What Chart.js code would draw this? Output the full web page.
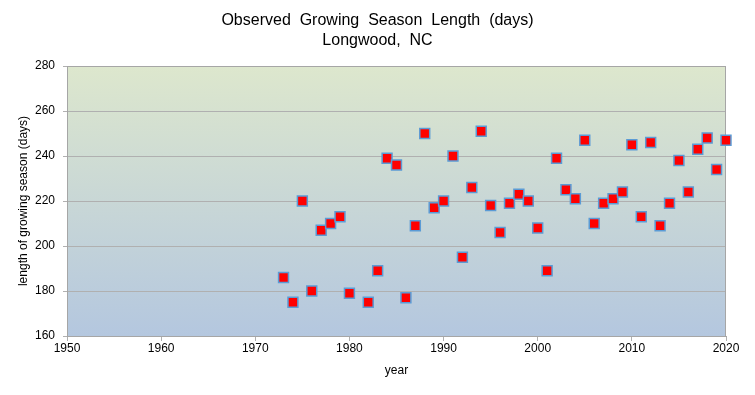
<!DOCTYPE html>
<html>
<head>
<meta charset="utf-8">
<script src="https://cdn.jsdelivr.net/npm/chart.js@4"></script>
<style>
  html, body { margin: 0; padding: 0; background: #fff; }
  #wrap { width: 755px; height: 395px; }
</style>
</head>
<body>
<div id="wrap"><canvas id="seasonChart" width="755" height="395"></canvas></div>
<script>
const years = [
  1973, 1974, 1975, 1976, 1977, 1978, 1979, 1980, 1982, 1983,
  1984, 1985, 1986, 1987, 1988, 1989, 1990, 1991, 1992, 1993,
  1994, 1995, 1996, 1997, 1998, 1999, 2000, 2001, 2002, 2003,
  2004, 2005, 2006, 2007, 2008, 2009, 2010, 2011, 2012, 2013,
  2014, 2015, 2016, 2017, 2018, 2019, 2020
];
const seasonDays = [
  186, 175, 220, 180, 207, 210, 213, 179, 175, 189,
  239, 236, 177, 209, 250, 217, 220, 240, 195, 226,
  251, 218, 206, 219, 223, 220, 208, 189, 239, 225,
  221, 247, 210, 219, 221, 224, 245, 213, 246, 209,
  219, 238, 224, 243, 248, 234, 247
];
const xTicks = [1950, 1960, 1970, 1980, 1990, 2000, 2010, 2020];
const yTicks = [160, 180, 200, 220, 240, 260, 280];

const FONT = "'Liberation Sans', Arial, sans-serif";
const GRID = "#b0b0b0";

// plot background gradient + frame
const plotBackground = {
  id: "plotBackground",
  beforeDraw(chart) {
    const { ctx, chartArea: a } = chart;
    const g = ctx.createLinearGradient(0, a.top, 0, a.bottom);
    g.addColorStop(0, "#dde7cd");
    g.addColorStop(1, "#b4c7df");
    ctx.save();
    ctx.fillStyle = g;
    ctx.fillRect(a.left, a.top, a.right - a.left, a.bottom - a.top);
    ctx.restore();
  },
  beforeDatasetsDraw(chart) {
    const { ctx, chartArea: a } = chart;
    ctx.save();
    ctx.strokeStyle = "#a6a6a6";
    ctx.lineWidth = 1;
    ctx.strokeRect(a.left + 0.5, a.top + 0.5, a.right - a.left - 1, a.bottom - a.top);
    ctx.restore();
  }
};

const ctx = document.getElementById("seasonChart").getContext("2d");

let chart = new Chart(ctx, {
  type: "scatter",
  data: {
    datasets: [
      {
        label: "Growing season length",
        data: years.map((y, i) => ({ x: y, y: seasonDays[i] })),
        pointStyle: "rect",
        pointRadius: 7,
        pointHoverRadius: 7,
        backgroundColor: "#ff0000",
        borderColor: "#5b9bd5",
        borderWidth: 1.5,
        clip: false,
      },
    ],
  },
  options: {
    responsive: false,
    animation: false,
    layout: { padding: 0 },
    plugins: {
      legend: { display: false },
      tooltip: { enabled: false },
      title: {
        display: true,
        text: ["Observed  Growing  Season  Length  (days)", "Longwood,  NC"],
        color: "#000",
        font: { family: FONT, size: 16, weight: "normal", lineHeight: 1.25 },
        padding: { top: 11, bottom: 15 },
      },
    },
    scales: {
      x: {
        type: "linear",
        min: 1950,
        max: 2020,
        afterBuildTicks: (s) => { s.ticks = xTicks.map(v => ({ value: v })); },
        afterFit: (s) => { s.height = 59; },
        ticks: {
          color: "#000",
          font: { family: FONT, size: 12 },
          padding: 0,
          maxRotation: 0,
          callback: (v) => String(v),
        },
        grid: { drawOnChartArea: false, drawTicks: true, tickLength: 5, color: GRID },
        border: { display: true, color: "#a6a6a6" },
        title: {
          display: true,
          text: "year",
          color: "#000",
          font: { family: FONT, size: 12 },
          padding: { top: 0, bottom: 17 },
        },
      },
      y: {
        min: 160,
        max: 280,
        afterBuildTicks: (s) => { s.ticks = yTicks.map(v => ({ value: v })); },
        afterFit: (s) => { s.width = 67; },
        ticks: {
          color: "#000",
          font: { family: FONT, size: 12 },
          padding: 8,
        },
        grid: { color: GRID, lineWidth: 1, drawTicks: true, tickLength: 4 },
        border: { display: true, color: "#a6a6a6" },
        title: {
          display: true,
          text: "length of growing season (days)",
          color: "#000",
          font: { family: FONT, size: 12 },
          padding: { top: 16, bottom: 0 },
        },
      },
      // empty right-hand axis only reserves the margin on the right
      yRight: {
        position: "right",
        min: 160,
        max: 280,
        afterFit: (s) => { s.width = 29; },
        ticks: { display: false },
        grid: { display: false },
        border: { display: false },
      },
    },
  },
  plugins: [plotBackground],
});
</script>
</body>
</html>
